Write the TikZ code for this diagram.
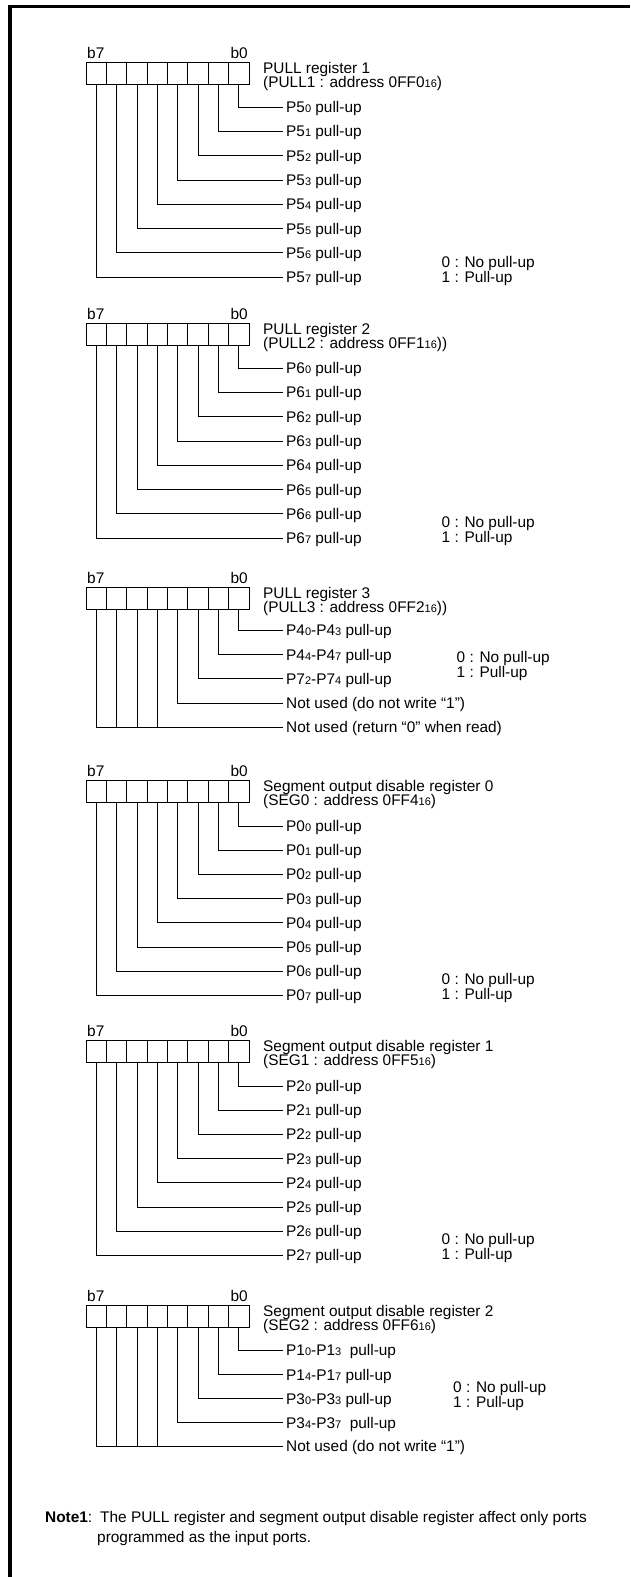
\documentclass[tikz,border=0pt]{standalone}
\usepackage{fontspec}
\setmainfont{Liberation Sans}
\newcommand{\regfont}{\fontsize{15.4}{14.5}\selectfont}
\newcommand{\ps}[1]{{\fontsize{11}{10}\selectfont #1}}

% the eight cells, b7/b0 and the two title lines of one register
\newcommand{\regbox}[4]{
  \foreach \k in {0,...,7}
    \node[cellbox] (#1c\k) at ({249-20.375*(\k+0.5)},{#2+11.25}) {};
  \node[bitnum, anchor=west] (#1b7) at (86,{#2-9.5}) {b7};
  \node[bitnum, anchor=east] (#1b0) at (249,{#2-9.5}) {b0};
  \node[txt] (#1t) at (260,{#2+6}) {#3};
  \node[txt] (#1a) at (260,{#2+20}) {#4};
}
% one bit row: name, bit, y, text
\newcommand{\regrow}[4]{
  \node[txt] (#1r#2) at (283,{#3}) {#4};
  \draw[wire] (#1c#2.south) |- (#1r#2.west);
}
% bits #2..7 on one row
\newcommand{\regjoin}[4]{
  \node[txt] (#1r7) at (283,{#3}) {#4};
  \draw[wire] (#1c7.south) |- (#1r7.west);
  \foreach \k in {#2,...,6}
    \draw[wire] (#1c\k.south) -- (#1c\k.south |- #1r7.west);
}
% 0/1 legend: name, x, y of first line
\newcommand{\reglegend}[3]{
  \node[txt] (#1l0) at (#2,{#3}) {0 : No pull-up};
  \node[txt] (#1l1) at (#2,{#3+15}) {1 : Pull-up};
}

\begin{document}
\begin{tikzpicture}[x=1pt, y=-1pt,
  cellbox/.style={draw, minimum width=20.375pt, minimum height=22.5pt, inner sep=0pt, line width=0.8pt},
  bitnum/.style={inner xsep=1pt, inner ysep=0pt, text height=11pt, text depth=0pt, font=\regfont},
  txt/.style={anchor=west, inner xsep=3pt, inner ysep=0pt, text height=11pt, text depth=0pt, font=\regfont},
  notetxt/.style={anchor=west, inner sep=0pt, text height=11pt, text depth=0pt, font=\regfont},
  wire/.style={line width=0.8pt},
  frameline/.style={line width=3.5pt}]
\useasboundingbox (0,0) rectangle (630,1577);
\draw[frameline] (10,1577) -- (10,6.5) -- (630,6.5);

% PULL1
\regbox{ra}{62}{PULL register 1}{(PULL1 : address 0FF0\ps{16})}
\foreach \i in {0,...,7}
  {\regrow{ra}{\i}{107+24.3*\i}{P5\ps{\i} pull-up}}
\reglegend{ra}{438.5}{262}

% PULL2
\regbox{rb}{323}{PULL register 2}{(PULL2 : address 0FF1\ps{16}))}
\foreach \i in {0,...,7}
  {\regrow{rb}{\i}{368+24.3*\i}{P6\ps{\i} pull-up}}
\reglegend{rb}{438.5}{522}

% PULL3
\regbox{rc}{587}{PULL register 3}{(PULL3 : address 0FF2\ps{16}))}
\regrow{rc}{0}{630}{P4\ps{0}-P4\ps{3} pull-up}
\regrow{rc}{1}{654.5}{P4\ps{4}-P4\ps{7} pull-up}
\regrow{rc}{2}{678.5}{P7\ps{2}-P7\ps{4} pull-up}
\regrow{rc}{3}{703}{Not used (do not write “1”)}
\regjoin{rc}{4}{727}{Not used (return “0” when read)}
\reglegend{rc}{453.5}{657}

% SEG0
\regbox{rd}{780}{Segment output disable register 0}{(SEG0 : address 0FF4\ps{16})}
\foreach \i in {0,...,7}
  {\regrow{rd}{\i}{826+24.2*\i}{P0\ps{\i} pull-up}}
\reglegend{rd}{438.5}{979}

% SEG1
\regbox{re}{1040}{Segment output disable register 1}{(SEG1 : address 0FF5\ps{16})}
\foreach \i in {0,...,7}
  {\regrow{re}{\i}{1086+24.2*\i}{P2\ps{\i} pull-up}}
\reglegend{re}{438.5}{1239}

% SEG2
\regbox{rf}{1305}{Segment output disable register 2}{(SEG2 : address 0FF6\ps{16})}
\regrow{rf}{0}{1350}{P1\ps{0}-P1\ps{3}~ pull-up}
\regrow{rf}{1}{1374.5}{P1\ps{4}-P1\ps{7} pull-up}
\regrow{rf}{2}{1398.5}{P3\ps{0}-P3\ps{3} pull-up}
\regrow{rf}{3}{1422.5}{P3\ps{4}-P3\ps{7}~ pull-up}
\regjoin{rf}{4}{1446}{Not used (do not write “1”)}
\reglegend{rf}{450}{1387}

% note
\node[notetxt] (note) at (45,1517) {\textbf{Note1}:};
\node[notetxt] (notea) at (100,1517) {The PULL register and segment output disable register affect only ports};
\node[notetxt] (noteb) at (97,1537) {programmed as the input ports.};
\end{tikzpicture}
\end{document}
